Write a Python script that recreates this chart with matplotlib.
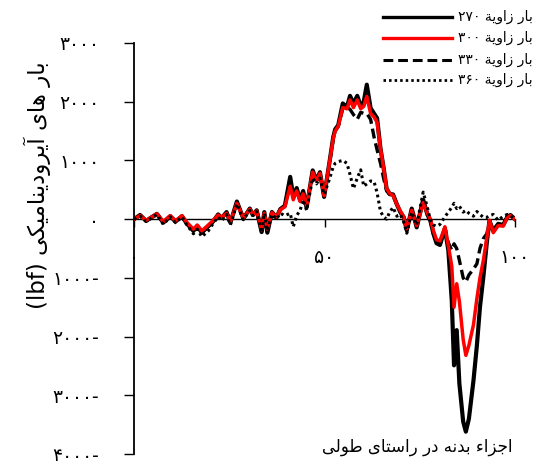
import matplotlib
matplotlib.use("Agg")
import matplotlib.pyplot as plt
from matplotlib.lines import Line2D

plt.rcParams['font.family'] = ['DejaVu Sans']

# ---------------- data ----------------
x_pos = [0, 1.6, 3.2, 6, 7.7, 9.5, 10.9, 12.6, 13.8, 15.6, 16.6, 17.8, 19.5, 20.5,
         22.1, 23, 24.3, 25.3, 27, 28.7, 30.4, 31.2, 32.2, 33.5, 34.2, 35.0, 36.2,
         37.4, 38.4, 39.6, 41.0, 41.8, 42.7, 43.6, 44.4, 45.3, 46.9, 47.9, 48.8,
         49.9, 51.4, 52.3, 52.8, 53.6, 54.8, 55.9, 56.7, 57.6, 58.6, 59.5, 60.3,
         61.1, 62.1, 63.0, 63.8, 64.7, 65.5, 66.3, 67.1, 68.0, 69.0, 69.9, 70.8,
         71.6, 72.9, 74.2, 75.9, 77.0, 77.8, 78.6, 79.4, 80.3, 81.6, 82.5, 83.4,
         84.0, 84.7, 85.4, 86.4, 87.1, 87.9, 89.1, 90.0, 90.8, 91.7, 92.6, 93.3,
         94.3, 95.6, 96.9, 98.0, 98.8, 100]

load_270 = [0, 70, -30, 90, -60, 50, -40, 50, -70, -200, -120, -230, -120, -60,
            80, 20, 120, -60, 300, 10, 180, 70, 150, -220, 120, -230, 120,
            30, 170, 230, 720, 380, 530, 320, 480, 200, 830, 660, 800,
            380, 1010, 1400, 1530, 1600, 1970, 1910, 2100, 1970, 2100, 1930, 2000,
            2290, 1890, 1800, 1720, 1200, 880, 520, 430, 420, 250, 120, 30,
            -190, 180, -140, 330, 80, -30, -250, -410, -440, -160, -530, -1380,
            -2490, -1890, -2800, -3450, -3620, -3400, -2750, -2150, -1500, -980, -400, -30,
            -200, -80, -100, 40, 70, 0]

load_300 = [0, 60, -20, 90, -40, 60, -30, 60, -50, -170, -100, -200, -100, -40,
            70, 30, 100, -40, 270, 20, 170, 80, 140, -180, 100, -170, 110,
            40, 160, 210, 560, 330, 480, 300, 430, 230, 800, 650, 780,
            400, 1000, 1380, 1500, 1580, 1900, 1880, 2030, 1900, 2030, 1880, 1920,
            2090, 1800, 1740, 1650, 1200, 880, 520, 440, 400, 250, 140, 40,
            -160, 150, -110, 280, 100, 0, -200, -350, -370, -130, -450, -800,
            -1500, -1100, -1400, -2050, -2320, -2150, -1800, -1350, -1000, -700, -320, -20,
            -230, -110, -120, 30, 60, 0]

load_330 = [0, 70, -30, 100, -60, 50, -40, 50, -70, -190, -110, -220, -120, -60,
            80, 20, 120, -60, 290, 10, 180, 70, 150, -210, 120, -220, 120,
            30, 170, 230, 690, 370, 520, 320, 470, 200, 820, 650, 790,
            380, 990, 1380, 1500, 1580, 1880, 1900, 1870, 1780, 1700, 1820, 1800,
            1800, 1700, 1400, 1180, 950, 700, 480, 420, 400, 250, 120, 30,
            -190, 170, -130, 320, 80, -30, -250, -400, -430, -150, -400, -530,
            -420, -500, -700, -1000, -1070, -950, -850, -760, -500, -330, -250, -30,
            -200, -80, -100, 40, 70, 0]

load_360 = [0, 50, -40, 80, -90, 40, -60, 40, -90, -250, -170, -300, -200, -100,
            40, -30, 80, -100, 260, -10, 150, 60, 130, -230, 100, -200, 80,
            0, 100, 60, 100, -130, 60, 150, 330, 150, 700, 600, 700,
            420, 700, 900, 950, 980, 1000, 950, 760, 520, 700, 840, 560,
            600, 650, 640, 450, 130, 40, 0, 120, 200, 50, 80, -50,
            -240, 120, -100, 460, 200, -20, -100, -120, -90, 40, 120, 200,
            270, 180, 220, 120, 150, 100, 50, 130, 80, 30, 30, 60,
            80, -20, 50, 80, 60, 0]

y_ticks = [3000, 2000, 1000, 0, -1000, -2000, -3000, -4000]
y_tick_labels = ['۳۰۰۰', '۲۰۰۰', '۱۰۰۰', '۰', '۱۰۰۰-', '۲۰۰۰-', '۳۰۰۰-', '۴۰۰۰-']
x_ticks = [0, 50, 100]
x_tick_labels = ['۰', '۵۰', '۱۰۰']

series_names = ['بار زاویة', 'بار زاویة', 'بار زاویة', 'بار زاویة']
series_angles = ['۲۷۰', '۳۰۰', '۳۳۰', '۳۶۰']
y_title = 'بار های آیرودینامیکی'
y_unit = '(lbf)'
x_title = 'اجزاء بدنه در راستای طولی'

# ---------------- simple Arabic shaping (visual order) ----------------
FORMS = {
    'ا': ('\uFE8D', '\uFE8E', None, None),
    'آ': ('\uFE81', '\uFE82', None, None),
    'ب': ('\uFE8F', '\uFE90', '\uFE91', '\uFE92'),
    'ت': ('\uFE95', '\uFE96', '\uFE97', '\uFE98'),
    'ج': ('\uFE9D', '\uFE9E', '\uFE9F', '\uFEA0'),
    'د': ('\uFEA9', '\uFEAA', None, None),
    'ر': ('\uFEAD', '\uFEAE', None, None),
    'ز': ('\uFEAF', '\uFEB0', None, None),
    'س': ('\uFEB1', '\uFEB2', '\uFEB3', '\uFEB4'),
    'ط': ('\uFEC1', '\uFEC2', '\uFEC3', '\uFEC4'),
    'ک': ('\uFED9', '\uFEDA', '\uFEDB', '\uFEDC'),
    'ل': ('\uFEDD', '\uFEDE', '\uFEDF', '\uFEE0'),
    'م': ('\uFEE1', '\uFEE2', '\uFEE3', '\uFEE4'),
    'ن': ('\uFEE5', '\uFEE6', '\uFEE7', '\uFEE8'),
    'و': ('\uFEED', '\uFEEE', None, None),
    'ه': ('\uFEE9', '\uFEEA', '\uFEEB', '\uFEEC'),
    'ة': ('\uFE93', '\uFE94', None, None),
    'ی': ('\uFEEF', '\uFEF0', '\uFEF3', '\uFEF4'),
    'ء': ('\uFE80', None, None, None),
}


def shape(text):
    out = []
    n = len(text)
    for i, ch in enumerate(text):
        if ch not in FORMS:
            out.append(ch)
            continue
        iso, fin, ini, med = FORMS[ch]
        prev = text[i - 1] if i > 0 else None
        nxt = text[i + 1] if i < n - 1 else None
        jp = prev in FORMS and FORMS[prev][2] is not None and fin is not None
        jn = ini is not None and nxt in FORMS and FORMS[nxt][1] is not None
        if jp and jn:
            out.append(med)
        elif jp:
            out.append(fin)
        elif jn:
            out.append(ini)
        else:
            out.append(iso)
    return ''.join(out)[::-1]


# ---------------- figure ----------------
W, H = 536, 461
fig = plt.figure(figsize=(W / 100, H / 100), dpi=100)
ax = fig.add_axes([134 / W, (H - 454) / H, (515 - 134) / W, (454 - 43) / H])

ax.plot(x_pos, load_270, color='black', lw=3.0, zorder=3, solid_joinstyle='round')
ax.plot(x_pos, load_330, color='black', lw=2.4, ls=(0, (3.0, 1.5)), zorder=3.2)
ax.plot(x_pos, load_300, color='#ff0000', lw=2.5, zorder=3.4, solid_joinstyle='round')
ax.plot(x_pos, load_360, color='black', lw=2.2, ls=(0, (0.9, 1.1)), zorder=3.6)

ax.set_xlim(0, 100)
ax.set_ylim(-4000, 3000)
for s in ['top', 'right']:
    ax.spines[s].set_visible(False)
ax.spines['bottom'].set_position(('data', 0))
ax.spines['bottom'].set_linewidth(1.0)
ax.spines['left'].set_linewidth(1.3)

ax.set_yticks(y_ticks)
ax.set_yticklabels(y_tick_labels, fontsize=13.5)
ax.set_xticks(x_ticks)
ax.set_xticklabels(x_tick_labels, fontsize=13.5)
ax.tick_params(axis='y', direction='out', length=7, width=1, pad=18)
ax.tick_params(axis='x', direction='out', length=6, width=1, pad=15)

ax.text(-0.255, 0.655, y_unit + ' ' + shape(y_title), transform=ax.transAxes,
        rotation=90, ha='center', va='center', fontsize=16.5)
fig.text(417 / W, 1 - 447 / H, shape(x_title), ha='center', va='center', fontsize=12)

# legend (drawn in figure pixels)
styles = [dict(color='black', lw=2.4), dict(color='#ff0000', lw=2.4),
          dict(color='black', lw=2.2, ls=(0, (3.2, 1.6))),
          dict(color='black', lw=2.0, ls=(0, (0.9, 1.1)))]
rows = [17, 38, 60, 80]
for st, yy, nm, ang in zip(styles, rows, series_names, series_angles):
    fig.add_artist(Line2D([383 / W, 452 / W], [1 - yy / H, 1 - yy / H],
                          transform=fig.transFigure, **st))
    fig.text(458 / W, 1 - yy / H, ang + ' ' + shape(nm), ha='left', va='center',
             fontsize=10)

fig.savefig('out.png', dpi=100)
